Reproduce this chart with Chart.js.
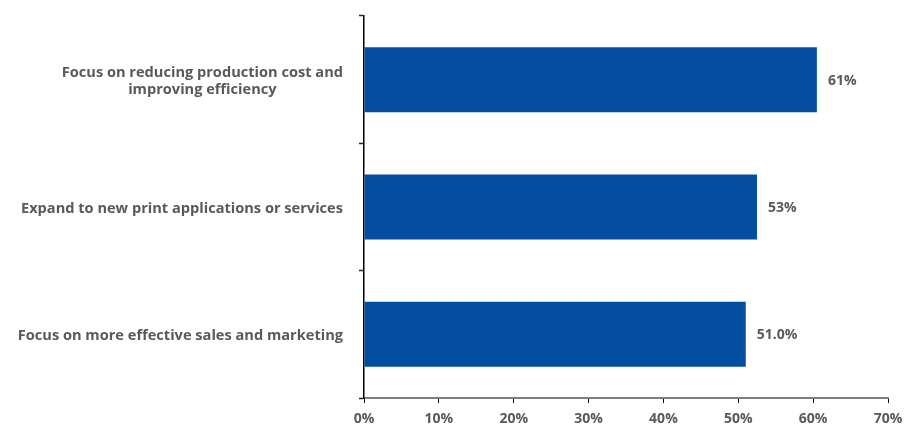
<!DOCTYPE html>
<html lang="en">
<head>
    <meta charset="UTF-8">
    <title>Business Priorities</title>
    <style>
        body {
            margin: 0;
            background-color: #ffffff;
        }
        .chart-container {
            width: 906px;
            height: 428px;
        }
    </style>
</head>
<body>
    <div class="chart-container">
        <canvas id="prioChart" width="906" height="428"></canvas>
    </div>

    <script src="https://cdn.jsdelivr.net/npm/chart.js"></script>
    <script>
        // chart data
        var categories = [
            ['Focus on reducing production cost and', 'improving efficiency'],
            ['Expand to new print applications or services'],
            ['Focus on more effective sales and marketing']
        ];
        var shares = [60.5, 52.5, 51.0];
        var shareLabels = ['61%', '53%', '51.0%'];
        var xTicks = [0, 10, 20, 30, 40, 50, 60, 70];

        var textColor = '#595959';
        var fontFamily = '"Open Sans", sans-serif';
        var labelFont = 'bold 14px ' + fontFamily;
        var catFont = 'bold 14.6px ' + fontFamily;

        // value labels to the right of each bar
        var valueLabels = {
            id: 'valueLabels',
            afterDatasetsDraw: function (chart) {
                var ctx = chart.ctx;
                var meta = chart.getDatasetMeta(0);
                ctx.save();
                ctx.font = labelFont;
                ctx.fillStyle = textColor;
                ctx.textAlign = 'left';
                ctx.textBaseline = 'middle';
                meta.data.forEach(function (bar, i) {
                    ctx.fillText(shareLabels[i], bar.x + 11, bar.y + 1);
                });
                ctx.restore();
            }
        };

        // category labels: block right-aligned to the axis, lines centred in the block
        var categoryLabels = {
            id: 'categoryLabels',
            afterDraw: function (chart) {
                var ctx = chart.ctx;
                var yScale = chart.scales.y;
                var right = yScale.right - 21;
                var lineH = 17;
                ctx.save();
                ctx.font = catFont;
                ctx.fillStyle = textColor;
                ctx.textAlign = 'center';
                ctx.textBaseline = 'middle';
                categories.forEach(function (lines, i) {
                    var y = yScale.getPixelForTick(i) + 1.5;
                    var widest = Math.max.apply(null, lines.map(function (l) { return ctx.measureText(l).width; }));
                    var cx = right - widest / 2;
                    var top = y - (lines.length - 1) * lineH / 2;
                    lines.forEach(function (l, j) {
                        ctx.fillText(l, cx, top + j * lineH);
                    });
                });
                ctx.restore();
            }
        };

        var ctx = document.getElementById('prioChart').getContext('2d');
        var prioChart = new Chart(ctx, {
            type: 'bar',
            data: {
                labels: categories,
                datasets: [{
                    data: shares,
                    backgroundColor: '#044ea1',
                    borderWidth: 0,
                    categoryPercentage: 1.0,
                    barPercentage: 0.51
                }]
            },
            options: {
                indexAxis: 'y',
                responsive: false,
                maintainAspectRatio: false,
                animation: false,
                layout: {
                    padding: { top: 16, right: 18, left: 0, bottom: 0 }
                },
                plugins: {
                    legend: { display: false },
                    tooltip: { enabled: false }
                },
                scales: {
                    x: {
                        min: 0,
                        max: 70,
                        afterBuildTicks: function (scale) {
                            scale.ticks = xTicks.map(function (v) { return { value: v }; });
                        },
                        afterFit: function (scale) {
                            scale.height = 30;
                            scale.paddingLeft = 0;
                            scale.paddingRight = 0;
                        },
                        grid: {
                            drawOnChartArea: false,
                            drawTicks: true,
                            tickLength: 5,
                            tickColor: '#000000',
                            tickWidth: 1
                        },
                        border: {
                            color: '#7f7f7f',
                            width: 2
                        },
                        ticks: {
                            padding: 8,
                            color: textColor,
                            font: { family: fontFamily, size: 14, weight: 'bold' },
                            callback: function (v) { return v + '%'; }
                        }
                    },
                    y: {
                        afterFit: function (scale) {
                            scale.width = 364;
                        },
                        grid: {
                            offset: true,
                            drawOnChartArea: false,
                            drawTicks: true,
                            tickLength: 5,
                            tickColor: '#262626',
                            tickWidth: 1.5
                        },
                        border: {
                            color: '#000000',
                            width: 1.5
                        },
                        ticks: {
                            display: false
                        }
                    }
                }
            },
            plugins: [valueLabels, categoryLabels]
        });
    </script>
</body>
</html>
